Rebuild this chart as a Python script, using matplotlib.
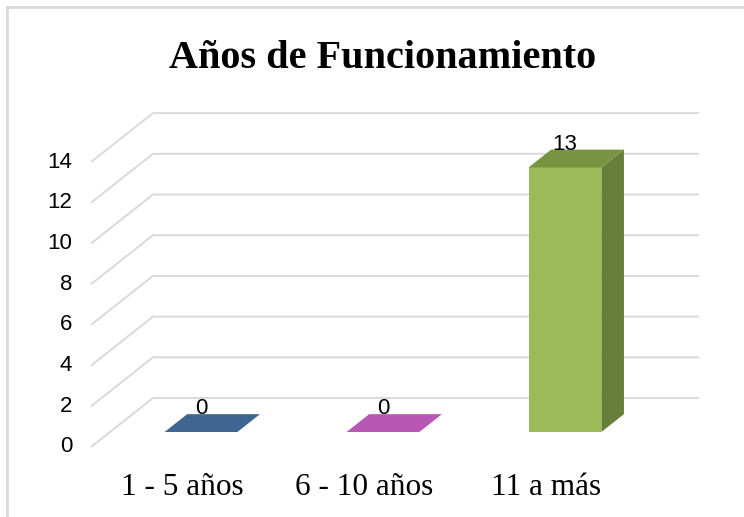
import matplotlib
matplotlib.use("Agg")
import matplotlib.pyplot as plt
from matplotlib.patches import Polygon
from matplotlib.lines import Line2D

# ---- data ----
categories = ["1 - 5 años", "6 - 10 años", "11 a más"]
values = [0, 0, 13]
yticks = [0, 2, 4, 6, 8, 10, 12, 14]
title = "Años de Funcionamiento"

# ---- colours ----
front_colors = ["#4F81BD", "#C0504D", "#9BBB59"]
top_colors = ["#3F6591", "#B957B5", "#789442"]
side_colors = ["#35557A", "#9A4693", "#677F3A"]
grid_color = "#D9D9D9"

NUM_FONT, NUM_SIZE = "Liberation Sans", 16

# ---- layout (pixel geometry of the pseudo-3D frame) ----
W, H, DPI = 744, 517, 100
PX_CAT = 182.0      # px per category step
PX_VAL = 20.35      # px per value unit
ORIG_X, ORIG_Y = 182.0, 447.0   # px of category 0, value 0 at front
DEPTH_PX = (62.0, 49.0)         # px shift from front floor to back wall
DX = DEPTH_PX[0] / PX_CAT
DY = DEPTH_PX[1] / PX_VAL
D0, D1 = 0.306, 0.67            # bar front/back depth fraction
BAR_W = 0.40

fig = plt.figure(figsize=(W / DPI, H / DPI), dpi=DPI)
ax = fig.add_axes([0, 0, 1, 1])
ax.set_xlim((0 - ORIG_X) / PX_CAT, (W - ORIG_X) / PX_CAT)
ax.set_ylim(-(H - ORIG_Y) / PX_VAL, ORIG_Y / PX_VAL)
ax.axis("off")

# chart border (clipped at right/bottom)
fig.add_artist(Line2D([7 / W, 1], [1 - 7 / H, 1 - 7 / H], color=grid_color, lw=2))
fig.add_artist(Line2D([7 / W, 7 / W], [0, 1 - 7 / H], color=grid_color, lw=2))

n = len(categories)
x_left = -0.5
x_right = n - 0.5

# gridlines: floor-side diagonal then along back wall
for v in yticks:
    ax.plot([x_left, x_left + DX, x_right + DX], [v, v + DY, v + DY],
            color=grid_color, lw=1.4, solid_capstyle="butt", zorder=1)
    ax.text((72 - ORIG_X) / PX_CAT, v, str(v), ha="right", va="center",
            family=NUM_FONT, fontsize=NUM_SIZE, color="#000000")

# bars
for i, v in enumerate(values):
    xl = i - BAR_W / 2
    xr = i + BAR_W / 2
    if v > 0:
        ax.add_patch(Polygon([(xl + D0 * DX, D0 * DY), (xr + D0 * DX, D0 * DY),
                              (xr + D0 * DX, v + D0 * DY), (xl + D0 * DX, v + D0 * DY)],
                             closed=True, facecolor=front_colors[i], edgecolor="none", zorder=3))
        ax.add_patch(Polygon([(xr + D0 * DX, D0 * DY), (xr + D1 * DX, D1 * DY),
                              (xr + D1 * DX, v + D1 * DY), (xr + D0 * DX, v + D0 * DY)],
                             closed=True, facecolor=side_colors[i], edgecolor="none", zorder=3))
    ax.add_patch(Polygon([(xl + D0 * DX, v + D0 * DY), (xr + D0 * DX, v + D0 * DY),
                          (xr + D1 * DX, v + D1 * DY), (xl + D1 * DX, v + D1 * DY)],
                         closed=True, facecolor=top_colors[i], edgecolor="none", zorder=4))
    ax.text(i + D0 * DX, v + D1 * DY, str(v), ha="center", va="baseline",
            family=NUM_FONT, fontsize=NUM_SIZE, color="#000000", zorder=5)
    ax.text(i, (ORIG_Y - 495) / PX_VAL, categories[i], ha="center", va="baseline",
            family="Liberation Serif", fontsize=22.5, color="#000000")

fig.text(383 / W, 1 - 68 / H, title, ha="center", va="baseline",
         family="Liberation Serif", fontweight="bold", fontsize=29, color="#000000")

fig.savefig("out.png", dpi=DPI, facecolor="white")
